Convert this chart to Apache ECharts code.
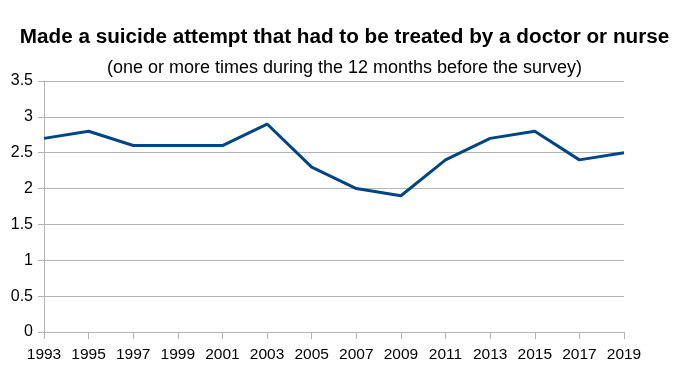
<!DOCTYPE html>
<html>
<head>
<meta charset="utf-8">
<script src="https://cdn.jsdelivr.net/npm/echarts@6/dist/echarts.min.js"></script>
<style>
  html, body { margin: 0; padding: 0; background: #fff; }
  #chart { width: 689px; height: 376px; }
</style>
</head>
<body>
<div id="chart"></div>
<script>
const years = ["1993", "1995", "1997", "1999", "2001", "2003", "2005", "2007", "2009", "2011", "2013", "2015", "2017", "2019"]
const attemptValues = [2.7, 2.8, 2.6, 2.6, 2.6, 2.9, 2.3, 2.0, 1.9, 2.4, 2.7, 2.8, 2.4, 2.5]

const titleText = "Made a suicide attempt that had to be treated by a doctor or nurse"
const subtitleText = "(one or more times during the 12 months before the survey)"

let myChart = echarts.init(document.getElementById("chart"))
myChart.setOption({
  animation: false,
  title: [
    {
      text: titleText,
      left: "center",
      top: 22,
      textStyle: {
        fontFamily: "Liberation Sans",
        fontSize: 20.7,
        fontWeight: "bold",
        color: "#000",
      },
    },
    {
      text: subtitleText,
      left: "center",
      top: 54,
      textStyle: {
        fontFamily: "Liberation Sans",
        fontSize: 18,
        fontWeight: "normal",
        color: "#000",
      },
    },
  ],
  grid: {
    left: 44,
    right: 65,
    top: 81,
    bottom: 44,
  },
  xAxis: {
    type: "category",
    data: years,
    boundaryGap: false,
    axisLine: { lineStyle: { color: "#b3b3b3", width: 1 } },
    axisTick: { show: true, length: 7, interval: 0, alignWithLabel: true, lineStyle: { color: "#b3b3b3" } },
    axisLabel: {
      interval: 0,
      hideOverlap: false,
      color: "#000",
      fontFamily: "Liberation Sans",
      fontSize: 15.5,
      margin: 15,
    },
    splitLine: { show: false },
  },
  yAxis: {
    type: "value",
    min: 0,
    max: 3.5,
    interval: 0.5,
    axisLine: { show: true, lineStyle: { color: "#b3b3b3", width: 1 } },
    axisTick: { show: true, length: 6, lineStyle: { color: "#b3b3b3" } },
    axisLabel: {
      color: "#000",
      fontFamily: "Liberation Sans",
      fontSize: 16,
      margin: 11,
    },
    splitLine: { show: true, lineStyle: { color: "#b3b3b3", width: 1 } },
  },
  series: [
    {
      name: "Suicide attempt",
      type: "line",
      data: attemptValues,
      showSymbol: false,
      lineStyle: { color: "#004586", width: 3 },
      itemStyle: { color: "#004586" },
    },
  ],
})
</script>
</body>
</html>
